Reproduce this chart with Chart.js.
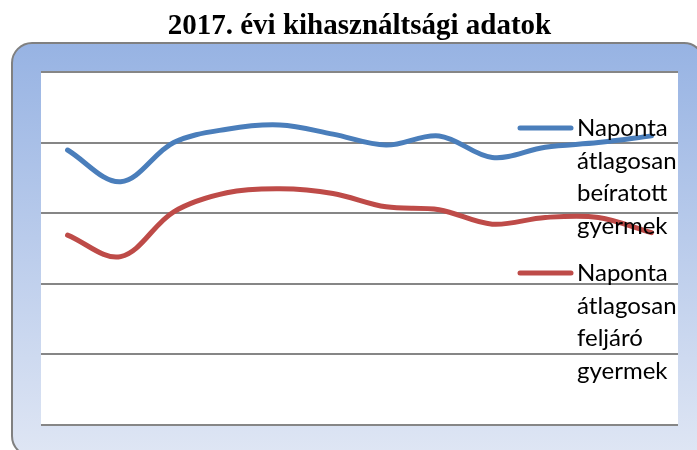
<!DOCTYPE html>
<html lang="hu">
<head>
<meta charset="utf-8">
<title>2017. évi kihasználtsági adatok</title>
<script src="https://cdn.jsdelivr.net/npm/chart.js@4.4.1/dist/chart.umd.min.js"></script>
<style>
    body { margin: 0; background: #fff; overflow: hidden; }
    canvas { display: block; }
</style>
</head>
<body>
<canvas id="kihasznaltsagChart" width="697" height="450"></canvas>
<script>
// havi adatok (2017)
const honapok = ["január", "február", "március", "április", "május", "június",
    "július", "augusztus", "szeptember", "október", "november", "december"];
const beiratott = [77.9, 68.9, 80.0, 83.8, 85.0, 82.4, 79.3, 81.9, 75.8, 78.7, 80.0, 81.9];
const feljaro = [53.8, 47.7, 60.4, 65.8, 66.9, 65.6, 61.8, 61.0, 56.9, 58.8, 58.8, 54.5];

const beiratottSorok = ["Naponta", "átlagosan", "beíratott", "gyermek"];
const feljaroSorok = ["Naponta", "átlagosan", "feljáró", "gyermek"];

const kekSzin = "#4A7EBB";
const pirosSzin = "#BE4B48";

// lekerekített keret színátmenettel + fehér rajzterület
const keretPlugin = {
    id: "keret",
    beforeDraw(chart) {
        const ctx = chart.ctx;
        const area = chart.chartArea;
        ctx.save();
        const grad = ctx.createLinearGradient(0, 43, 0, 456);
        grad.addColorStop(0, "#97B3E3");
        grad.addColorStop(1, "#DFE6F4");
        ctx.beginPath();
        ctx.roundRect(12, 43, 692, 413, 20);
        ctx.fillStyle = grad;
        ctx.fill();
        ctx.lineWidth = 2;
        ctx.strokeStyle = "#808080";
        ctx.stroke();
        ctx.fillStyle = "#ffffff";
        ctx.fillRect(area.left, area.top, area.right - area.left, area.bottom - area.top);
        ctx.restore();
    }
};

// jelmagyarázat a rajzterületen belül, több soros szöveggel
const jelmagyarazatPlugin = {
    id: "jelmagyarazat",
    afterDatasetsDraw(chart) {
        const ctx = chart.ctx;
        const elemek = [
            { szin: kekSzin, sorok: beiratottSorok, y: 128 },
            { szin: pirosSzin, sorok: feljaroSorok, y: 273 }
        ];
        ctx.save();
        ctx.font = "24px Lato";
        ctx.fillStyle = "#000";
        ctx.textBaseline = "alphabetic";
        elemek.forEach(e => {
            ctx.beginPath();
            ctx.moveTo(520, e.y);
            ctx.lineTo(571, e.y);
            ctx.lineWidth = 5;
            ctx.lineCap = "round";
            ctx.strokeStyle = e.szin;
            ctx.stroke();
            e.sorok.forEach((sor, i) => {
                ctx.fillText(sor, 577, e.y + 8 + i * 32.5);
            });
        });
        ctx.restore();
    }
};

const ctx = document.getElementById("kihasznaltsagChart").getContext("2d");
new Chart(ctx, {
    type: "line",
    data: {
        labels: honapok,
        datasets: [
            {
                label: beiratottSorok.join(" "),
                data: beiratott,
                borderColor: kekSzin,
                borderWidth: 5,
                borderCapStyle: "round",
                borderJoinStyle: "round",
                pointRadius: 0,
                tension: 0.35,
                fill: false
            },
            {
                label: feljaroSorok.join(" "),
                data: feljaro,
                borderColor: pirosSzin,
                borderWidth: 5,
                borderCapStyle: "round",
                borderJoinStyle: "round",
                pointRadius: 0,
                tension: 0.35,
                fill: false
            }
        ]
    },
    options: {
        responsive: false,
        animation: false,
        layout: { padding: { left: 41, right: 19, top: 0, bottom: 25 } },
        plugins: {
            legend: { display: false },
            tooltip: { enabled: false },
            title: {
                display: true,
                text: "2017. évi kihasználtsági adatok",
                color: "#000",
                font: { family: "'Liberation Serif', 'Times New Roman', serif", size: 29, weight: "bold" },
                padding: { top: 9, bottom: 28.2 }
            }
        },
        scales: {
            x: {
                display: false,
                offset: true
            },
            y: {
                min: 0,
                max: 100,
                ticks: { display: false, stepSize: 20 },
                border: { display: false },
                grid: { color: "#868686", lineWidth: 2, drawTicks: false }
            }
        }
    },
    plugins: [keretPlugin, jelmagyarazatPlugin]
});
</script>
</body>
</html>
